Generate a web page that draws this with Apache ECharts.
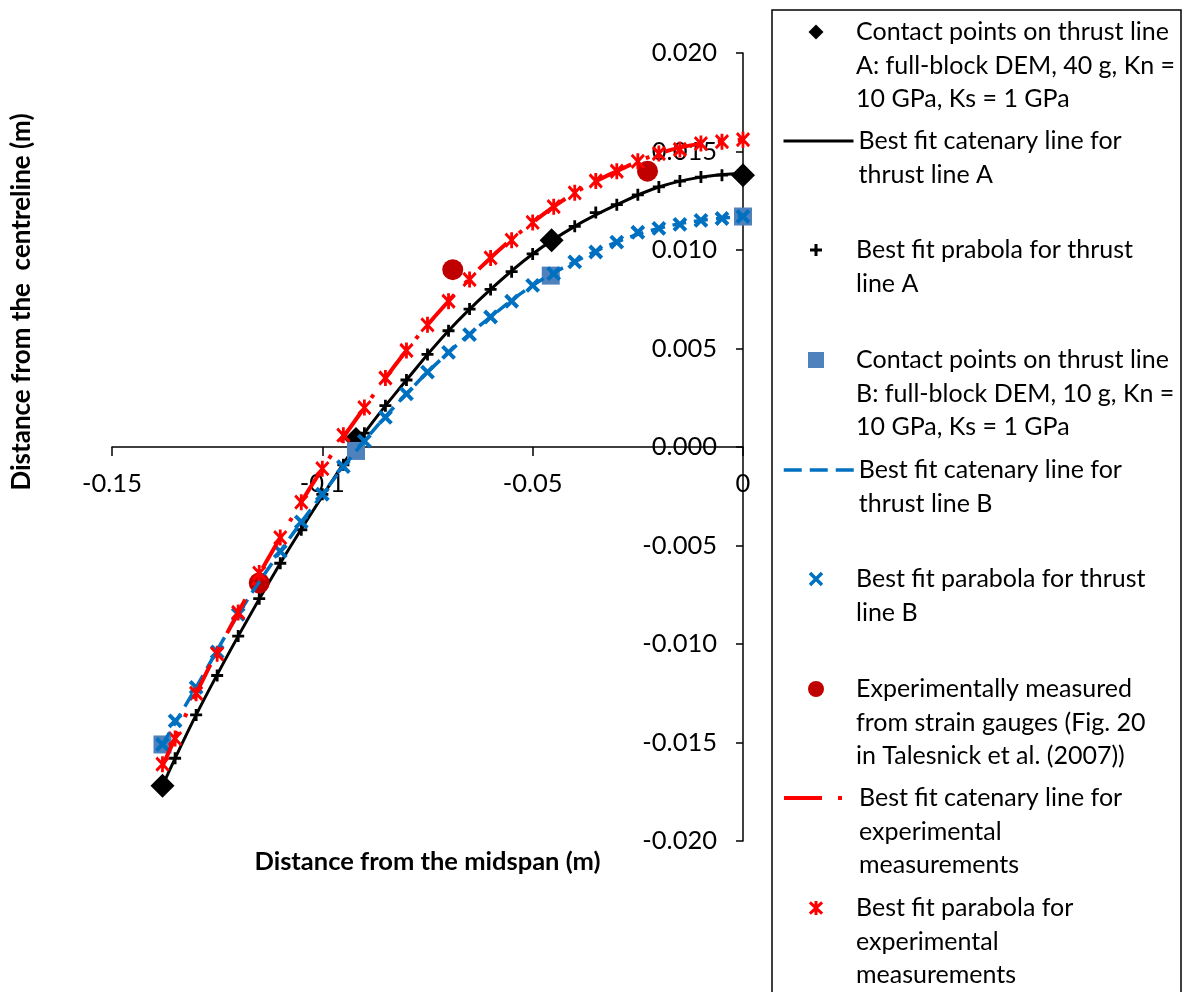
<!DOCTYPE html>
<html>
<head>
<meta charset="utf-8">
<script src="https://cdn.jsdelivr.net/npm/echarts@6/dist/echarts.min.js"></script>
<style>
html, body { margin: 0; padding: 0; background: #fff; }
#thrustChart { width: 1187px; height: 992px; }
</style>
</head>
<body>
<div id="thrustChart"></div>
<script>
// contact points
var contactA = [[-0.138, -0.0172], [-0.092, 0.0004], [-0.0455, 0.0105], [0, 0.0138]];
var contactB = [[-0.138, -0.0151], [-0.092, -0.0002], [-0.0457, 0.0087], [0, 0.0117]];
// strain gauge measurements
var measured = [[-0.115, -0.0069], [-0.069, 0.0090], [-0.0227, 0.0140]];

// best fit parabola points (same x for all three)
var parabolaX = [-0.138, -0.135, -0.13, -0.125, -0.12, -0.115, -0.11, -0.105, -0.1, -0.095,
    -0.09, -0.085, -0.08, -0.075, -0.07, -0.065, -0.06, -0.055, -0.05, -0.045,
    -0.04, -0.035, -0.03, -0.025, -0.02, -0.015, -0.01, -0.005, 0];
var parabolaAY = [-0.0172, -0.0158, -0.0136, -0.0116, -0.0096, -0.0077, -0.0059, -0.0042, -0.0024, -0.0009,
    0.0007, 0.0021, 0.0034, 0.0047, 0.0059, 0.0070, 0.0080, 0.0089, 0.0098, 0.0105,
    0.0112, 0.0119, 0.0123, 0.0128, 0.0132, 0.0135, 0.0137, 0.0138, 0.0139];
var parabolaBY = [-0.0151, -0.0139, -0.0122, -0.0104, -0.0085, -0.0069, -0.0053, -0.0038, -0.0024, -0.0010,
    0.0003, 0.0015, 0.0027, 0.0038, 0.0048, 0.0057, 0.0066, 0.0074, 0.0082, 0.0088,
    0.0094, 0.0099, 0.0104, 0.0109, 0.0111, 0.0113, 0.0115, 0.0116, 0.0117];
var parabolaExpY = [-0.0161, -0.0148, -0.0125, -0.0105, -0.0084, -0.0064, -0.0046, -0.0028, -0.0011, 0.0006,
    0.0020, 0.0035, 0.0049, 0.0062, 0.0074, 0.0085, 0.0096, 0.0105, 0.0114, 0.0122,
    0.0129, 0.0135, 0.0140, 0.0145, 0.0149, 0.0151, 0.0154, 0.0155, 0.0156];

// best fit catenary lines
var catenaryX = [-0.138, -0.13, -0.12, -0.11, -0.1, -0.09, -0.08, -0.07, -0.06, -0.05, -0.04, -0.03, -0.02, -0.01, 0];
var catenaryAY = [-0.0172, -0.0136, -0.0096, -0.0059, -0.0025, 0.0007, 0.0034, 0.0059, 0.0080, 0.0098, 0.0112, 0.0123, 0.0132, 0.0137, 0.0139];
var catenaryBY = [-0.0151, -0.0122, -0.0085, -0.0053, -0.0024, 0.0003, 0.0027, 0.0048, 0.0066, 0.0082, 0.0094, 0.0104, 0.0111, 0.0115, 0.0117];
var catenaryExpY = [-0.0162, -0.0125, -0.0084, -0.0046, -0.0011, 0.0020, 0.0049, 0.0074, 0.0096, 0.0114, 0.0129, 0.0140, 0.0149, 0.0154, 0.0156];

var seriesNames = [
    'Contact points on thrust line\nA: full-block DEM, 40 g, Kn =\n10 GPa, Ks = 1 GPa',
    'Best fit catenary line for\nthrust line A',
    'Best fit prabola for thrust\nline A',
    'Contact points on thrust line\nB: full-block DEM, 10 g, Kn =\n10 GPa, Ks = 1 GPa',
    'Best fit catenary line for\nthrust line B',
    'Best fit parabola for thrust\nline B',
    'Experimentally measured\nfrom strain gauges (Fig. 20\nin Talesnick et al. (2007))',
    'Best fit catenary line for\nexperimental\nmeasurements',
    'Best fit parabola for\nexperimental\nmeasurements'
];

var FONT = 'Lato, "Open Sans", sans-serif';
var PLUS = 'path://M5,0L5,10M0,5L10,5';
var CROSS = 'path://M0,0L10,10M10,0L0,10';
var STAR = 'path://M0,1.5L14,14.5M14,1.5L0,14.5M7,0L7,16';
var DIAMOND = 'path://M5,0L10,5L5,10L0,5Z';
var SQUARE = 'path://M0,0L10,0L10,10L0,10Z';
var BLUE = '#0070C0';
var RED = '#FF0000';

function pairs(xs, ys) {
    return xs.map(function (x, i) { return [x, ys[i]]; });
}

var chart = echarts.init(document.getElementById('thrustChart'));

var series = [
    { type: 'scatter', data: contactA, symbol: 'diamond', symbolSize: 24,
      itemStyle: { color: '#000', opacity: 1 } },
    { type: 'line', data: pairs(catenaryX, catenaryAY), symbol: 'none', smooth: 0.4, z: 1,
      lineStyle: { color: '#000', width: 3 } },
    { type: 'scatter', data: pairs(parabolaX, parabolaAY), symbol: PLUS, symbolSize: 12, z: 1,
      itemStyle: { color: '#000', borderColor: '#000', borderWidth: 2.8, opacity: 1 } },
    { type: 'scatter', data: contactB, symbol: 'rect', symbolSize: 18,
      itemStyle: { color: '#4F81BD', opacity: 1 } },
    { type: 'line', data: pairs(catenaryX, catenaryBY), symbol: 'none', smooth: 0.4,
      lineStyle: { color: BLUE, width: 3.5, type: [14, 8] } },
    { type: 'scatter', data: pairs(parabolaX, parabolaBY), symbol: CROSS, symbolSize: 12,
      itemStyle: { color: BLUE, borderColor: BLUE, borderWidth: 4, opacity: 1 } },
    { type: 'scatter', data: measured, symbol: 'circle', symbolSize: 21,
      itemStyle: { color: '#C00000', opacity: 1 } },
    { type: 'line', data: pairs(catenaryX, catenaryExpY), symbol: 'none', smooth: 0.4,
      lineStyle: { color: RED, width: 4, type: [38, 16, 4, 16] } },
    { type: 'scatter', data: pairs(parabolaX, parabolaExpY), symbol: STAR, symbolSize: [14, 16],
      itemStyle: { color: RED, borderColor: RED, borderWidth: 3, opacity: 1 } }
];
series.forEach(function (s, i) {
    s.name = seriesNames[i];
    s.silent = true;
    s.symbolKeepAspect = true;
});

// legend entries: first text line centre, icon size, icon style
var legendFirstLine = [32, 141, 250, 360, 470, 579, 689, 798, 908];
var legendIconSize = [15, 14, 12, 16, 14, 12, 16, 14, 14];
var legendIcon = [DIAMOND, null, PLUS, SQUARE, null, CROSS, 'circle', null, STAR];
var hiddenSymbol = { opacity: 0, borderWidth: 0 };
var legendItemStyle = [
    { color: '#000', borderWidth: 0 },
    hiddenSymbol,
    { color: '#000', borderColor: '#000', borderWidth: 3 },
    { color: '#4F81BD', borderWidth: 0 },
    hiddenSymbol,
    { color: BLUE, borderColor: BLUE, borderWidth: 3.5 },
    { color: '#C00000', borderWidth: 0 },
    hiddenSymbol,
    { color: RED, borderColor: RED, borderWidth: 3 }
];
var legendLineStyle = [
    null,
    { color: '#000', width: 3, type: 'solid' },
    null, null,
    { color: BLUE, width: 3.5, type: [18, 8] },
    null, null,
    { color: RED, width: 4, type: [38, 16, 4, 16] },
    null
];
var LINE_H = 33.5;
var ICON_BOX = 70;

var legends = seriesNames.map(function (name, i) {
    var n = name.split('\n').length;
    // blank lines above so the first real line sits level with the icon
    var lead = new Array(n).join('\n');
    var item = { name: name, itemStyle: legendItemStyle[i] };
    var left = 782;
    if (legendLineStyle[i]) {
        item.lineStyle = legendLineStyle[i];
    } else {
        // the legend box starts at the drawn symbol, so shift it to centre on x=816
        item.icon = legendIcon[i];
        var s = legendIconSize[i];
        if (legendIcon[i] === STAR) s = s * 14 / 16;
        left = 816 - s / 2 - (legendItemStyle[i].borderWidth || 0) / 2;
    }
    return {
        orient: 'vertical',
        left: left,
        top: legendFirstLine[i] - LINE_H * (2 * n - 1) / 2,
        padding: 0,
        itemWidth: ICON_BOX,
        itemHeight: legendIconSize[i],
        symbolKeepAspect: true,
        selectedMode: false,
        data: [item],
        formatter: function (nm) { return lead + nm; },
        textStyle: { fontFamily: FONT, fontSize: 25, color: '#000', lineHeight: LINE_H }
    };
});

var option = {
    backgroundColor: '#fff',
    animation: false,
    textStyle: { fontFamily: FONT },
    grid: {
        left: 112, right: 444, top: 53, bottom: 151,
        containLabel: false,
        outerBoundsMode: 'none'
    },
    xAxis: {
        type: 'value',
        position: 'bottom',
        offset: -394,
        min: -0.15, max: 0, interval: 0.05,
        name: 'Distance from the midspan (m)',
        nameLocation: 'middle',
        nameGap: 402,
        nameTextStyle: { fontFamily: FONT, fontSize: 25.5, fontWeight: 'bold', color: '#000' },
        axisLine: { onZero: false, lineStyle: { color: '#000', width: 1.5 } },
        axisTick: { show: true, length: 9, lineStyle: { color: '#000', width: 1.5 } },
        axisLabel: { margin: 24, fontFamily: FONT, fontSize: 25.5, color: '#000' },
        splitLine: { show: false }
    },
    yAxis: {
        type: 'value',
        position: 'right',
        min: -0.02, max: 0.02, interval: 0.005,
        axisLine: { onZero: false, lineStyle: { color: '#000', width: 1.5 } },
        axisTick: { show: true, inside: true, length: 7, lineStyle: { color: '#000', width: 1.5 } },
        axisLabel: {
            inside: true, margin: 26, fontFamily: FONT, fontSize: 25.5, color: '#000',
            formatter: function (v) { return Math.abs(v) < 1e-9 ? '0.000' : v.toFixed(3); }
        },
        splitLine: { show: false }
    },
    legend: legends,
    graphic: [
        { type: 'rect', silent: true, z: -10,
          shape: { x: 772, y: 10, width: 409, height: 1000 },
          style: { fill: '#fff', stroke: '#000', lineWidth: 1.5 } },
        { type: 'text', silent: true, x: 22, y: 302, rotation: Math.PI / 2,
          style: { text: 'Distance from the  centreline (m)', font: 'bold 26px ' + FONT,
                   fill: '#000', align: 'center', verticalAlign: 'middle' } }
    ],
    series: series
};

chart.setOption(option);
</script>
</body>
</html>
